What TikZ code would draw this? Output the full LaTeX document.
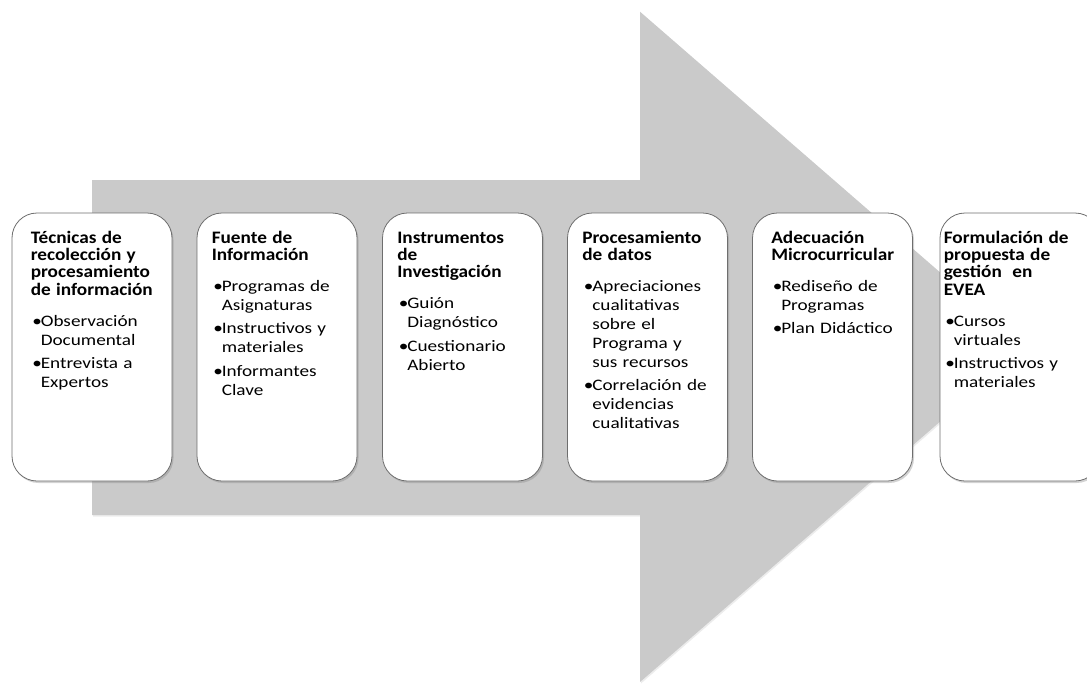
\documentclass[tikz,border=0pt]{standalone}
\usepackage{fontspec}
\setmainfont{Carlito}[FakeStretch=1.2]
\newfontfamily\headfont{Carlito}[FakeStretch=1.1]
\usetikzlibrary{calc}
\usetikzlibrary{positioning}
\usetikzlibrary{shadows}
\definecolor{arrowgray}{RGB}{202,202,202}
\definecolor{edgegray}{RGB}{110,110,110}
\newcommand{\headtxt}[1]{{\headfont\bfseries\fontsize{17.5}{17.3}\selectfont #1\par}\vspace{12pt}}
\newcommand{\bul}[1]{\par\hangindent=10pt\hangafter=1\noindent\makebox[10pt][l]{\hspace{1.5pt}•}#1\par\vspace{4.5pt}}

\begin{document}
\begin{tikzpicture}[x=1pt,y=-1pt]
\tikzstyle{box}=[rectangle,draw=edgegray,line width=0.8pt,fill=white,rounded corners=25pt,
  minimum width=160pt,minimum height=268pt,
  drop shadow={shadow xshift=1.5pt,shadow yshift=-2pt,opacity=0.35}]
\tikzstyle{txt}=[anchor=base west,inner sep=0pt,text width=150pt,align=left,
  font=\fontsize{16}{19}\selectfont\setlength{\parskip}{0pt}]
\useasboundingbox (0,0) rectangle (1087,683);
% big arrow in the back
\fill[arrowgray,drop shadow={shadow xshift=1pt,shadow yshift=-1.5pt,opacity=0.15}]
  (92,180) -- (640,180) -- (640,11.7) -- (1026,347) -- (640,682) -- (640,515) -- (92,515) -- cycle;
% steps
\node[box] at(92, 347) (b1) {};
\node[box] at(277, 347) (b2) {};
\node[box] at(462.5, 347) (b3) {};
\node[box] at(647.5, 347) (b4) {};
\node[box] at(832.5, 347) (b5) {};
\node[box] at(1020, 347) (b6) {};
\node[txt] at($(b1.north west)+(19,30.5)$) (t1) {\headtxt{Técnicas de\newline recolección y\newline procesamiento\newline de información}%
  \bul{Observación\newline Documental}%
  \bul{Entrevista a\newline Expertos}};
\node[txt] at($(b2.north west)+(15,30.5)$) (t2) {\headtxt{Fuente de\newline Información}%
  \bul{Programas de\newline Asignaturas}%
  \bul{Instructivos y\newline materiales}%
  \bul{Informantes\newline Clave}};
\node[txt] at($(b3.north west)+(15,30.5)$) (t3) {\headtxt{Instrumentos\newline de\newline Investigación}%
  \bul{Guión\newline Diagnóstico}%
  \bul{Cuestionario\newline Abierto}};
\node[txt] at($(b4.north west)+(15,30.5)$) (t4) {\headtxt{Procesamiento\newline de datos}%
  \bul{Apreciaciones\newline cualitativas\newline sobre el\newline Programa y\newline sus recursos}%
  \bul{Correlación de\newline evidencias\newline cualitativas}};
\node[txt] at($(b5.north west)+(19,30.5)$) (t5) {\headtxt{Adecuación\newline Microcurricular}%
  \bul{Rediseño de\newline Programas}%
  \bul{Plan Didáctico}};
\node[txt] at($(b6.north west)+(4,30.5)$) (t6) {\headtxt{Formulación de\newline propuesta de\newline gestión~~en\newline EVEA}%
  \bul{Cursos\newline virtuales}%
  \bul{Instructivos y\newline materiales}};
\end{tikzpicture}
\end{document}
